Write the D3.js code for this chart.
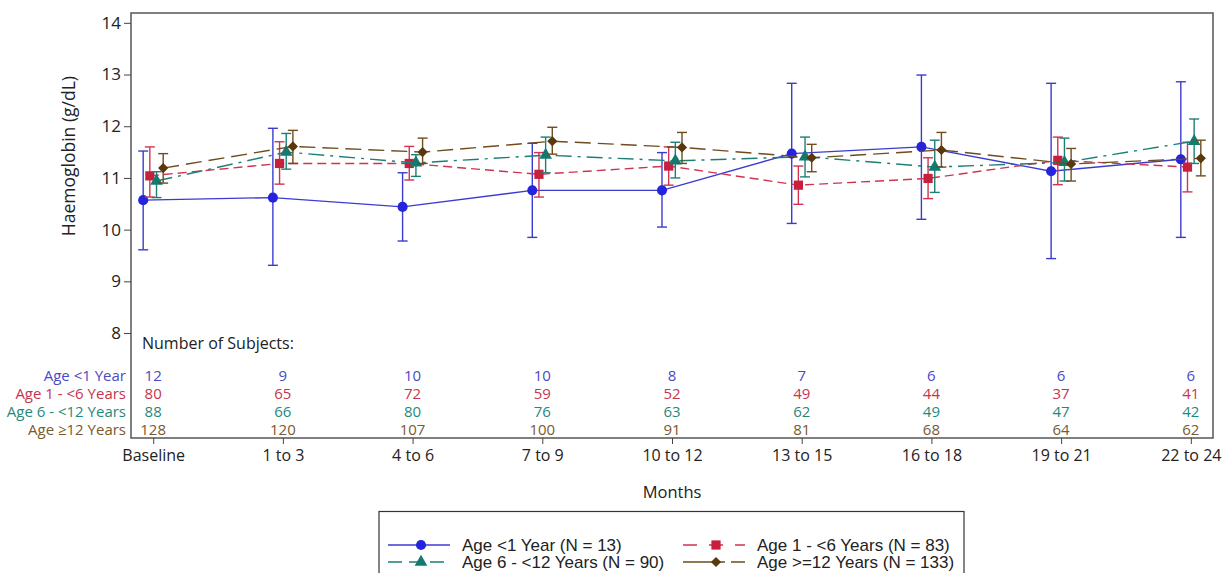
<!DOCTYPE html>
<html><head><meta charset="utf-8">
<script src="https://cdn.jsdelivr.net/npm/d3@7"></script>
<style>body{margin:0;background:#fff}svg{display:block}</style>
</head><body>
<svg id="chart" width="1225" height="573"></svg>
<script>
const categories = ["Baseline","1 to 3","4 to 6","7 to 9","10 to 12","13 to 15","16 to 18","19 to 21","22 to 24"];
const seriesNames = ["Age <1 Year","Age 1 - <6 Years","Age 6 - <12 Years","Age \u226512 Years"];
const legendLabels = ["Age <1 Year (N = 13)","Age 1 - <6 Years (N = 83)","Age 6 - <12 Years (N = 90)","Age >=12 Years (N = 133)"];
const yTicks = [8,9,10,11,12,13,14];

const meanAge0 = [10.57,10.62,10.44,10.76,10.76,11.47,11.60,11.13,11.36];
const lowAge0  = [9.61,9.31,9.78,9.85,10.05,10.12,10.20,9.44,9.85];
const highAge0 = [11.52,11.96,11.10,11.67,11.49,12.83,12.99,12.83,12.86];

const meanAge1 = [11.04,11.28,11.28,11.07,11.23,10.86,10.99,11.34,11.21];
const lowAge1  = [10.63,10.88,10.96,10.63,10.86,10.49,10.60,10.87,10.73];
const highAge1 = [11.60,11.70,11.61,11.49,11.60,11.23,11.39,11.79,11.69];

const meanAge6 = [10.94,11.50,11.29,11.44,11.33,11.41,11.21,11.30,11.71];
const lowAge6  = [10.62,11.17,11.03,11.10,11.00,11.02,10.72,10.94,11.28];
const highAge6 = [11.12,11.86,11.45,11.79,11.69,11.79,11.73,11.77,12.14];

const meanAge12 = [11.19,11.61,11.50,11.71,11.59,11.39,11.54,11.27,11.38];
const lowAge12  = [10.90,11.28,11.28,11.46,11.28,11.12,11.21,10.94,11.04];
const highAge12 = [11.47,11.92,11.77,11.98,11.88,11.65,11.88,11.57,11.73];

const nAge0  = [12,9,10,10,8,7,6,6,6];
const nAge1  = [80,65,72,59,52,49,44,37,41];
const nAge6  = [88,66,80,76,63,62,49,47,42];
const nAge12 = [128,120,107,100,91,81,68,64,62];

const series = [
  {name: seriesNames[0], legend: legendLabels[0], mean: meanAge0, low: lowAge0, high: highAge0, n: nAge0,
   color: "#2424dc", text: "#4a4ac4", dash: null, symbol: d3.symbolCircle, size: 80, rot: 0},
  {name: seriesNames[1], legend: legendLabels[1], mean: meanAge1, low: lowAge1, high: highAge1, n: nAge1,
   color: "#c8203c", text: "#c8344e", dash: "9,5", symbol: d3.symbolSquare, size: 85, rot: 0},
  {name: seriesNames[2], legend: legendLabels[2], mean: meanAge6, low: lowAge6, high: highAge6, n: nAge6,
   color: "#137a70", text: "#1f8a7c", dash: "16,6,3,6", symbol: d3.symbolTriangle, size: 70, rot: 0},
  {name: seriesNames[3], legend: legendLabels[3], mean: meanAge12, low: lowAge12, high: highAge12, n: nAge12,
   color: "#5a380c", text: "#7a5a2c", dash: "16,7", symbol: d3.symbolSquare, size: 52, rot: 45}
];
const lineColors = ["#3b3bd0","#d0344e","#1d7f74","#6e4c1e"];
const legendDash = [null, "14,12", "14,7", "42,6,20"];

const svg = d3.select("#chart");
const L = 131, R = 1213, T = 13, B = 438;
const tickFont = "'Open Sans', 'DejaVu Sans', sans-serif";
const legFont = "'Liberation Sans', Arial, sans-serif";

const x = d3.scalePoint().domain(categories).range([L, R]).padding(0.171);
const off = d3.scalePoint().domain(seriesNames).range([-10, 10]);
const y = d3.scaleLinear().domain([5.97, 14.19]).range([B, T]);

// frame
svg.append("rect").attr("x", L).attr("y", T).attr("width", R - L).attr("height", B - T)
  .attr("fill", "none").attr("stroke", "#555").attr("stroke-width", 1.5);

// axes
const yAxis = d3.axisLeft(y).tickValues(yTicks).tickSize(7).tickPadding(3).tickFormat(d3.format("d"));
const gy = svg.append("g").attr("transform", `translate(${L},0)`).call(yAxis);
gy.select(".domain").remove();
gy.selectAll("line").attr("stroke", "#444");
gy.selectAll("text").attr("font-family", tickFont).attr("font-size", 17).attr("fill", "#222");

const xAxis = d3.axisBottom(x).tickSize(6).tickPadding(6);
const gx = svg.append("g").attr("transform", `translate(0,${B})`).call(xAxis);
gx.select(".domain").remove();
gx.selectAll("line").attr("stroke", "#444");
gx.selectAll("text").attr("font-family", tickFont).attr("font-size", 16).attr("fill", "#222");

svg.append("text").attr("x", (L + R) / 2).attr("y", 498).attr("text-anchor", "middle")
  .attr("font-family", tickFont).attr("font-size", 16.5).attr("fill", "#222").text("Months");
svg.append("text").attr("transform", `translate(75,${(y(14) + y(9)) / 2 + 4}) rotate(-90)`)
  .attr("text-anchor", "middle").attr("font-family", tickFont).attr("font-size", 17.5)
  .attr("fill", "#222").text("Haemoglobin (g/dL)");

// table
svg.append("text").attr("x", 142).attr("y", 349).attr("font-family", tickFont).attr("font-size", 16)
  .attr("fill", "#222").text("Number of Subjects:");
const rowY = [376, 394, 412, 430];
series.forEach((s, i) => {
  svg.append("text").attr("x", 126).attr("y", rowY[i]).attr("dy", "0.35em").attr("text-anchor", "end")
    .attr("font-family", tickFont).attr("font-size", 15).attr("fill", s.text).text(s.name);
  svg.append("g").selectAll("text").data(s.n).join("text")
    .attr("x", (d, j) => x(categories[j])).attr("y", rowY[i]).attr("dy", "0.35em")
    .attr("text-anchor", "middle").attr("font-family", tickFont).attr("font-size", 15)
    .attr("fill", s.text).text(d => d);
});

// series
series.forEach((s, i) => {
  const g = svg.append("g");
  const px = j => x(categories[j]) + off(s.name);
  const line = d3.line().x((d, j) => px(j)).y(d => y(d));
  g.append("path").attr("d", line(s.mean)).attr("fill", "none").attr("stroke", lineColors[i])
    .attr("stroke-width", 1.4).attr("stroke-dasharray", s.dash);
  const eb = g.append("g").attr("stroke", lineColors[i]).attr("stroke-width", 1.4);
  s.mean.forEach((m, j) => {
    eb.append("line").attr("x1", px(j)).attr("x2", px(j)).attr("y1", y(s.low[j])).attr("y2", y(s.high[j]));
    eb.append("line").attr("x1", px(j) - 5).attr("x2", px(j) + 5).attr("y1", y(s.low[j])).attr("y2", y(s.low[j]));
    eb.append("line").attr("x1", px(j) - 5).attr("x2", px(j) + 5).attr("y1", y(s.high[j])).attr("y2", y(s.high[j]));
  });
  g.selectAll("path.m").data(s.mean).join("path").attr("class", "m")
    .attr("transform", (d, j) => `translate(${px(j)},${y(d)}) rotate(${s.rot})`)
    .attr("d", d3.symbol().type(s.symbol).size(s.size)).attr("fill", s.color);
});

// legend
const lg = svg.append("g");
lg.append("rect").attr("x", 379).attr("y", 511.5).attr("width", 585).attr("height", 80)
  .attr("fill", "#fff").attr("stroke", "#333").attr("stroke-width", 1.2);
const legPos = [[388, 545], [683, 545], [388, 562], [683, 562]];
series.forEach((s, i) => {
  const [lx, ly] = legPos[i];
  lg.append("line").attr("x1", lx).attr("x2", lx + 62).attr("y1", ly).attr("y2", ly)
    .attr("stroke", lineColors[i]).attr("stroke-width", 1.4).attr("stroke-dasharray", legendDash[i]);
  lg.append("path").attr("transform", `translate(${lx + 33},${ly}) rotate(${s.rot})`)
    .attr("d", d3.symbol().type(s.symbol).size(s.size)).attr("fill", s.color);
  lg.append("text").attr("x", lx + 74).attr("y", ly).attr("dy", "0.35em")
    .attr("font-family", legFont).attr("font-size", 17).attr("fill", "#222").text(s.legend);
});
</script>
</body></html>
